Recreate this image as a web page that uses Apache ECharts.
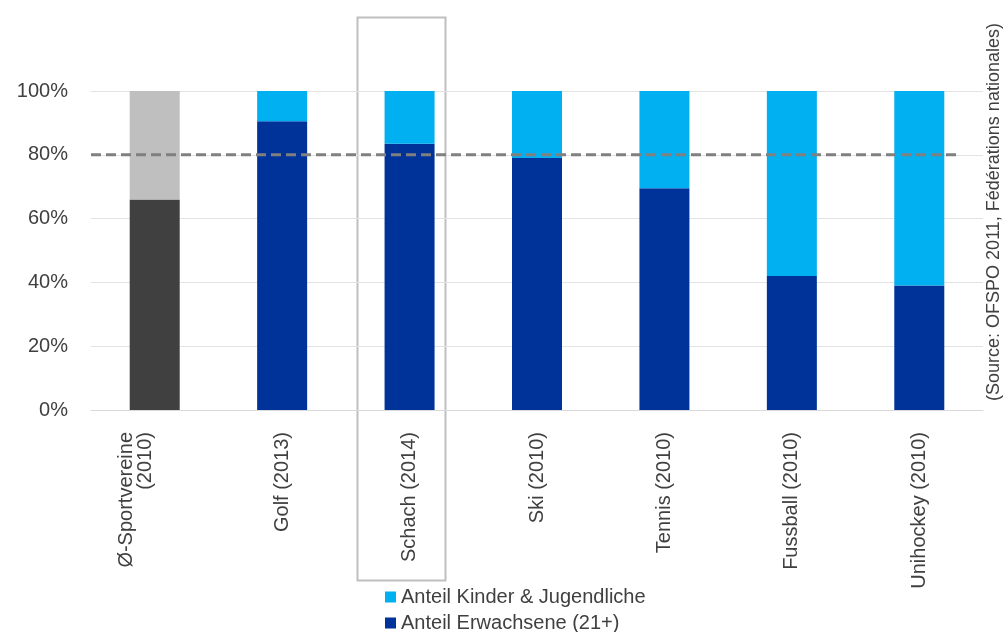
<!DOCTYPE html>
<html>
<head>
<meta charset="utf-8">
<script src="https://cdn.jsdelivr.net/npm/echarts@6/dist/echarts.min.js"></script>
<style>html,body{margin:0;padding:0;background:#fff;}#c{width:1005px;height:632px;}</style>
</head>
<body>
<div id="c"></div>
<script>
const categories = ['Ø-Sportvereine\n(2010)', 'Golf (2013)', 'Schach (2014)', 'Ski (2010)', 'Tennis (2010)', 'Fussball (2010)', 'Unihockey (2010)'];
const adults = [66, 90.5, 83.5, 79, 69.5, 42, 39];
const youth = [34, 9.5, 16.5, 21, 30.5, 58, 61];
const yTicks = [0, 20, 40, 60, 80, 100];
const threshold = 80;
const thresholdSpan = [-0.5, 6.3];
const seriesNames = ['Anteil Kinder & Jugendliche', 'Anteil Erwachsene (21+)'];
const sourceText = '(Source: OFSPO 2011, Fédérations nationales)';

const DARK = '#003399', LIGHT = '#00B0F0';
const font = '"Liberation Sans", Arial, sans-serif';

const adultData = adults.map((v, i) => i === 0 ? { value: v, itemStyle: { color: '#404040' } } : v);
const youthData = youth.map((v, i) => i === 0 ? { value: v, itemStyle: { color: '#BFBFBF' } } : v);

const legendBase = {
  itemWidth: 11, itemHeight: 11, icon: 'rect', left: 380,
  textStyle: { fontSize: 20, color: '#404040', fontFamily: font }
};

const chart = echarts.init(document.getElementById('c'));
chart.setOption({
  animation: false,
  textStyle: { fontFamily: font },
  grid: { left: 91, right: 22, top: 91, bottom: 222 },
  legend: [
    Object.assign({}, legendBase, { top: 582, data: [seriesNames[0]] }),
    Object.assign({}, legendBase, { top: 608, data: [seriesNames[1]] })
  ],
  xAxis: [{
    type: 'category', data: categories,
    axisLine: { show: true, lineStyle: { color: '#D9D9D9' } },
    axisTick: { show: false },
    axisLabel: {
      rotate: 90, interval: 0, fontSize: 20, color: '#404040', margin: 22, lineHeight: 19,
      formatter: v => v.indexOf('\n') >= 0 ? v + '\n \n ' : v
    }
  }, {
    type: 'value', min: -0.5, max: categories.length - 0.5, show: false
  }],
  yAxis: {
    type: 'value', min: yTicks[0], max: yTicks[yTicks.length - 1], interval: 20,
    axisLine: { show: false }, axisTick: { show: false },
    axisLabel: { formatter: '{value}%', fontSize: 20, color: '#404040', margin: 23 },
    splitLine: { lineStyle: { color: '#E3E3E3', width: 1 } }
  },
  series: [
    {
      name: seriesNames[1], type: 'bar', stack: 's', barWidth: 50,
      itemStyle: { color: DARK }, data: adultData
    },
    {
      name: seriesNames[0], type: 'bar', stack: 's', barWidth: 50,
      itemStyle: { color: LIGHT }, data: youthData
    },
    {
      name: 'threshold', type: 'line', xAxisIndex: 1, symbol: 'none', silent: true, z: 5,
      lineStyle: { color: '#808080', width: 3, type: [10, 5] },
      data: thresholdSpan.map(x => [x, threshold])
    }
  ],
  graphic: [
    {
      type: 'rect', left: 355, top: 15,
      shape: { width: 88, height: 563 },
      style: { fill: 'none', stroke: '#BFBFBF', lineWidth: 2 }
    },
    {
      type: 'text', x: 994, y: 212, rotation: Math.PI / 2,
      style: { text: sourceText, font: '18px ' + font, fill: '#404040', align: 'center', verticalAlign: 'middle' }
    }
  ]
});
</script>
</body>
</html>
